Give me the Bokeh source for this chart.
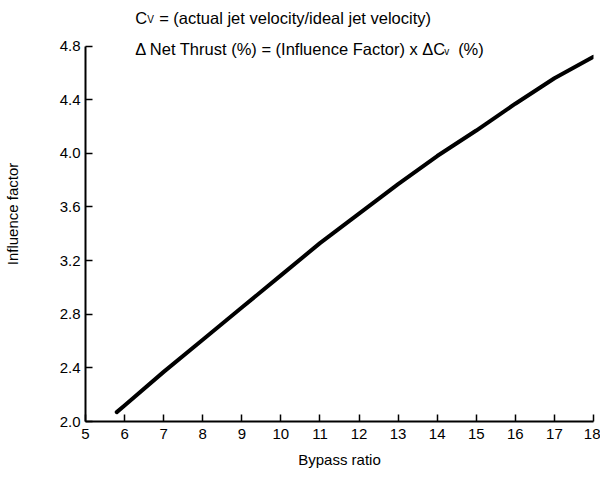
from bokeh.plotting import figure
from bokeh.models import Range1d, FixedTicker, Label, PrintfTickFormatter
from bokeh.embed import file_html
from bokeh.resources import INLINE

# ---- data ----
bypass_ratio = [5.8, 6, 7, 8, 9, 10, 11, 12, 13, 14, 15, 16, 17, 18]
influence_factor = [2.07, 2.12, 2.37, 2.61, 2.85, 3.09, 3.33, 3.55, 3.77, 3.98, 4.17, 4.37, 4.56, 4.72]
x_ticks = [5, 6, 7, 8, 9, 10, 11, 12, 13, 14, 15, 16, 17, 18]
y_ticks = [2.0, 2.4, 2.8, 3.2, 3.6, 4.0, 4.4, 4.8]
x_label = "Bypass ratio"
y_label = "Influence factor"

FONT = "Liberation Sans"

# frame extends above 4.8 so that the formula text (drawn inside the frame) is not clipped;
# the y axis line itself is bounded to 2.0 .. 4.8
p = figure(width=600, height=470, output_backend="svg", toolbar_location=None,
           x_range=Range1d(5, 18), y_range=Range1d(2.0, 5.095),
           min_border_left=80, min_border_right=7, min_border_top=6, min_border_bottom=45)
p.outline_line_color = None
p.grid.visible = False
p.background_fill_color = "white"
p.border_fill_color = "white"

p.line(bypass_ratio, influence_factor, line_width=4, line_color="black", line_cap="round")

for ax in (p.xaxis[0], p.yaxis[0]):
    ax.axis_line_width = 2
    ax.axis_line_color = "black"
    ax.major_tick_line_width = 1.5
    ax.major_tick_line_color = "black"
    ax.major_tick_in = 7
    ax.major_tick_out = 0
    ax.minor_tick_line_color = None
    ax.major_label_text_font = FONT
    ax.major_label_text_font_size = "15px"
    ax.major_label_text_color = "black"
    ax.axis_label_text_font = FONT
    ax.axis_label_text_font_size = "15px"
    ax.axis_label_text_font_style = "normal"
    ax.axis_label_text_color = "black"

p.xaxis.ticker = FixedTicker(ticks=x_ticks)
p.yaxis.ticker = FixedTicker(ticks=y_ticks)
p.yaxis.bounds = (2.0, 4.8)
p.yaxis.formatter = PrintfTickFormatter(format="%.1f")
p.xaxis.axis_label = x_label
p.yaxis.axis_label = y_label
p.xaxis.major_label_standoff = 7
p.xaxis.axis_label_standoff = 9
p.yaxis.major_label_standoff = 5
p.yaxis.axis_label_standoff = 36

# ---- annotation text (two formula lines) ----
tx = 6.27
line1_y = 5.007
line2_y = 4.78
fs = "16.5px"
small = "10px"

def lab(text, xoff, y, size=fs, yoff=0):
    p.add_layout(Label(x=tx, y=y, x_offset=xoff, y_offset=yoff, text=text,
                       text_font=FONT, text_font_size=size, text_color="black",
                       text_baseline="alphabetic", text_align="left"))

lab("C", 0, line1_y)
lab("V", 12, line1_y, size=small, yoff=-1)
lab("= (actual jet velocity/ideal jet velocity)", 24, line1_y)

lab("\u0394 Net Thrust (%) = (Influence Factor) x \u0394C", 0, line2_y)
lab("v", 309, line2_y, size=small, yoff=-3)
lab("(%)", 323, line2_y)

open("out.html", "w").write(file_html(p, INLINE))
